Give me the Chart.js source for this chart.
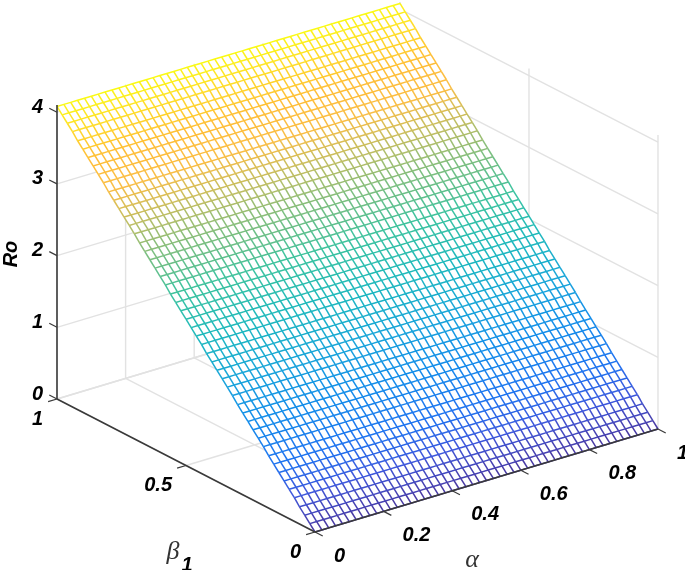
<!DOCTYPE html>
<html>
<head>
<meta charset="utf-8">
<title>Ro surface</title>
<script src="https://cdn.jsdelivr.net/npm/chart.js@4/dist/chart.umd.min.js"></script>
<style>
  html, body { margin: 0; padding: 0; background: #fff; }
  canvas { display: block; }
</style>
</head>
<body>
<canvas id="surfaceChart" width="685" height="570"></canvas>
<script>
// mesh lines
const alphaValues = [0, 0.02, 0.04, 0.06, 0.08, 0.1, 0.12, 0.14, 0.16, 0.18, 0.2, 0.22, 0.24, 0.26, 0.28, 0.3, 0.32, 0.34, 0.36, 0.38, 0.4, 0.42, 0.44, 0.46, 0.48, 0.5, 0.52, 0.54, 0.56, 0.58, 0.6, 0.62, 0.64, 0.66, 0.68, 0.7, 0.72, 0.74, 0.76, 0.78, 0.8, 0.82, 0.84, 0.86, 0.88, 0.9, 0.92, 0.94, 0.96, 0.98, 1];
const betaValues = [0, 0.02, 0.04, 0.06, 0.08, 0.1, 0.12, 0.14, 0.16, 0.18, 0.2, 0.22, 0.24, 0.26, 0.28, 0.3, 0.32, 0.34, 0.36, 0.38, 0.4, 0.42, 0.44, 0.46, 0.48, 0.5, 0.52, 0.54, 0.56, 0.58, 0.6, 0.62, 0.64, 0.66, 0.68, 0.7, 0.72, 0.74, 0.76, 0.78, 0.8, 0.82, 0.84, 0.86, 0.88, 0.9, 0.92, 0.94, 0.96, 0.98, 1];
// Ro read per beta line, it does not change along alpha
const roValues = [0, 0.08, 0.16, 0.24, 0.33, 0.41, 0.49, 0.57, 0.65, 0.73, 0.82, 0.9, 0.98, 1.06, 1.14, 1.22, 1.31, 1.39, 1.47, 1.55, 1.63, 1.71, 1.8, 1.88, 1.96, 2.04, 2.12, 2.2, 2.28, 2.37, 2.45, 2.53, 2.61, 2.69, 2.77, 2.86, 2.94, 3.02, 3.1, 3.18, 3.26, 3.35, 3.43, 3.51, 3.59, 3.67, 3.75, 3.84, 3.92, 4, 4.08];

const alphaTicks = [0, 0.2, 0.4, 0.6, 0.8, 1];
const betaTicks = [0, 0.5, 1];
const roTicks = [0, 1, 2, 3, 4];

const roMax = 4.08;
const axisColor = '#3a3a3a';
const gridColor = '#e2e2e2';
const labelFont = 'italic bold 20px "Liberation Sans"';

const colorStops = [
    [0, 72, 58, 165], [0.08, 62, 88, 220], [0.15, 32, 115, 240], [0.25, 20, 140, 235],
    [0.35, 25, 165, 218], [0.45, 30, 185, 190], [0.55, 60, 195, 160], [0.65, 130, 190, 125],
    [0.72, 190, 190, 100], [0.8, 250, 190, 70], [0.87, 255, 190, 55], [0.95, 255, 225, 40],
    [1, 250, 250, 20]
];

function roColor(ro) {
    const t = Math.min(ro / roMax, 1);
    let i = 0;
    while (i < colorStops.length - 2 && t > colorStops[i + 1][0]) i++;
    const s0 = colorStops[i];
    const s1 = colorStops[i + 1];
    const f = (t - s0[0]) / (s1[0] - s0[0]);
    const mix = k => Math.round(s0[k] + (s1[k] - s0[k]) * f);
    return `rgb(${mix(1)}, ${mix(2)}, ${mix(3)})`;
}

// view of the 3D box on the page
function project(a, b, z) {
    return {
        x: 315 + 343 * a - 258 * b,
        y: 532 - 103 * a - 133 * b - 71.7 * z
    };
}

function lineSet(points, color, width) {
    return {
        data: points,
        showLine: true,
        borderColor: color,
        borderWidth: width,
        pointRadius: 0,
        tension: 0,
        fill: false,
        clip: false
    };
}

const datasets = [];

// axes on top
const lastZ = 4.1;
datasets.push(lineSet([project(0, 1, 0), project(0, 1, lastZ)], axisColor, 1.6));
datasets.push(lineSet([project(0, 1, 0), project(0, 0, 0)], axisColor, 1.6));
datasets.push(lineSet([project(0, 0, 0), project(1, 0, 0)], axisColor, 1.6));
alphaTicks.forEach(a => {
    datasets.push(lineSet([project(a, 0, 0), project(a, -0.03, 0)], axisColor, 1.2));
});
betaTicks.forEach(b => {
    datasets.push(lineSet([project(0, b, 0), project(-0.026, b, 0)], axisColor, 1.2));
});
roTicks.forEach(z => {
    datasets.push(lineSet([project(0, 1, z), project(0, 1.03, z)], axisColor, 1.2));
});

// mesh, lines of constant beta then lines of constant alpha
betaValues.forEach((b, j) => {
    const pts = alphaValues.map(a => project(a, b, roValues[j]));
    datasets.push(lineSet(pts, roColor(roValues[j]), 1.5));
});
alphaValues.forEach(a => {
    const pts = betaValues.map((b, j) => project(a, b, roValues[j]));
    const ds = lineSet(pts, roColor(0), 1.5);
    ds.segment = { borderColor: ctx => roColor(roValues[ctx.p0DataIndex]) };
    datasets.push(ds);
});
const lastMesh = datasets.length - 1;

// grid behind the surface
alphaTicks.forEach(a => {
    datasets.push(lineSet([project(a, 1, 0), project(a, 1, lastZ)], gridColor, 1.4));
    datasets.push(lineSet([project(a, 0, 0), project(a, 1, 0)], gridColor, 1.4));
});
betaTicks.forEach(b => {
    datasets.push(lineSet([project(1, b, 0), project(1, b, lastZ)], gridColor, 1.4));
    datasets.push(lineSet([project(0, b, 0), project(1, b, 0)], gridColor, 1.4));
});
roTicks.forEach(z => {
    datasets.push(lineSet([project(0, 1, z), project(1, 1, z)], gridColor, 1.4));
    datasets.push(lineSet([project(1, 1, z), project(1, 0, z)], gridColor, 1.4));
});

// white face of the mesh hides the grid
const surfaceFace = {
    id: 'surfaceFace',
    beforeDatasetDraw(chart, args) {
        if (args.index !== lastMesh) return;
        const { ctx, scales } = chart;
        const last = betaValues.length - 1;
        const corners = [
            project(0, 0, roValues[0]), project(1, 0, roValues[0]),
            project(1, 1, roValues[last]), project(0, 1, roValues[last])
        ];
        ctx.save();
        ctx.fillStyle = '#fff';
        ctx.beginPath();
        corners.forEach((p, i) => {
            const px = scales.x.getPixelForValue(p.x);
            const py = scales.y.getPixelForValue(p.y);
            if (i === 0) ctx.moveTo(px, py); else ctx.lineTo(px, py);
        });
        ctx.closePath();
        ctx.fill();
        ctx.restore();
    }
};

const axisLabels = {
    id: 'axisLabels',
    afterDraw(chart) {
        const { ctx, scales } = chart;
        const text = (str, p, dx, dy, align) => {
            ctx.textAlign = align;
            ctx.fillText(str, scales.x.getPixelForValue(p.x) + dx, scales.y.getPixelForValue(p.y) + dy);
        };
        ctx.save();
        ctx.fillStyle = '#000';
        ctx.textBaseline = 'middle';
        ctx.font = labelFont;
        alphaTicks.forEach(a => text(String(a), project(a, 0, 0), 19, 24, 'left'));
        betaTicks.forEach(b => text(String(b), project(0, b, 0), -14, 20, 'right'));
        roTicks.forEach(z => text(String(z), project(0, 1, z), -14, -5, 'right'));

        ctx.textAlign = 'center';
        ctx.fillText('1', 187, 565);
        ctx.save();
        ctx.translate(11, 254);
        ctx.rotate(-Math.PI / 2);
        ctx.fillText('Ro', 0, 0);
        ctx.restore();

        ctx.fillStyle = '#333';
        ctx.font = 'italic 26px "Liberation Serif"';
        ctx.fillText('\u03b1', 472, 560);
        ctx.fillText('\u03b2', 173, 552);
        ctx.restore();
    }
};

new Chart(document.getElementById('surfaceChart').getContext('2d'), {
    type: 'scatter',
    data: { datasets: datasets },
    plugins: [surfaceFace, axisLabels],
    options: {
        responsive: false,
        animation: false,
        layout: { padding: 0 },
        plugins: {
            legend: { display: false },
            tooltip: { enabled: false }
        },
        scales: {
            x: { type: 'linear', display: false, min: 0, max: 685 },
            y: { type: 'linear', display: false, min: 0, max: 570, reverse: true }
        }
    }
});
</script>
</body>
</html>
